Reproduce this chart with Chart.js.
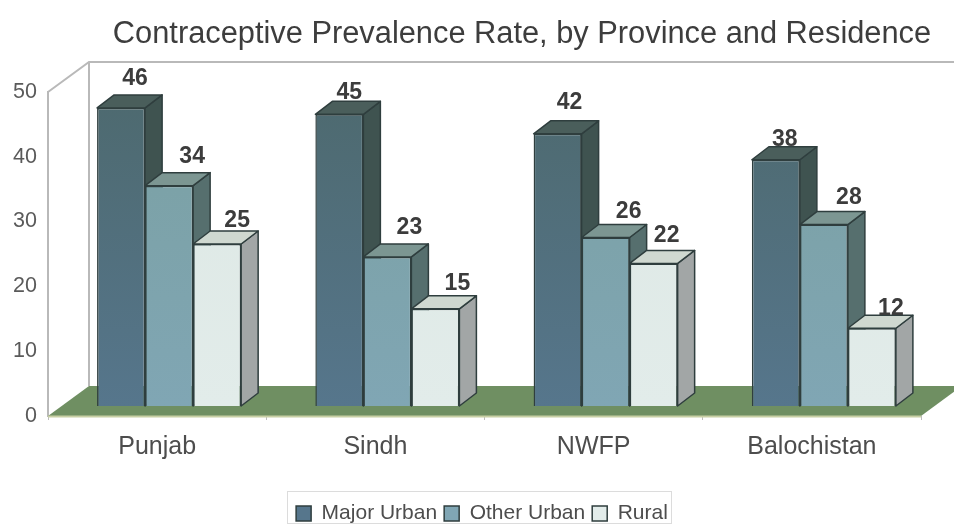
<!DOCTYPE html>
<html>
<head>
<meta charset="utf-8">
<style>
html,body{margin:0;padding:0;background:#fff;}
#wrap{width:954px;height:525px;}
</style>
<script src="https://cdn.jsdelivr.net/npm/chart.js@4"></script>
</head>
<body>
<div id="wrap"><canvas id="c" width="954" height="525"></canvas></div>
<script>
const titleText = 'Contraceptive Prevalence Rate, by Province and Residence';
const provinces = ['Punjab', 'Sindh', 'NWFP', 'Balochistan'];
const seriesNames = ['Major Urban', 'Other Urban', 'Rural'];
const majorUrban = [46, 45, 42, 38];
const otherUrban = [34, 23, 26, 28];
const rural = [25, 15, 22, 12];

// Fine placement of each value label relative to the top of its bar, series by series
const labelNudge = [
  [[14, -29], [10, -22], [12, -31], [9, -20]],
  [[23, -29], [22, -29], [23, -26], [25, -27]],
  [[20, -23], [22, -25], [13, -28], [19, -20]]
];

const frontShades = [
  ['#4d696e', '#56768c'],
  ['#7aa0a2', '#80a6b4'],
  ['#dde8e4', '#e2ecea']
];
const sideColors = ['#3f5350', '#566f6e', '#a2a6a6'];
const topColors = ['#4a5e5b', '#7c9692', '#cfd8d0'];
const edgeColor = '#2f3e3e';

const wallDepth = {x: 41, y: -30};   // floor and wall receding direction
const rowShift = {x: 12, y: -10};    // where the bar row stands on the floor
const barDepth = {x: 17, y: -13};    // thickness of each bar

function centreBox(box, centre) {
  const dx = centre - (box.left + box.right) / 2;
  box.left += dx;
  box.right += dx;
}

function frontFill(i) {
  return context => {
    const {ctx, chartArea} = context.chart;
    if (!chartArea) return frontShades[i][0];
    const g = ctx.createLinearGradient(0, chartArea.top, 0, chartArea.bottom);
    g.addColorStop(0, frontShades[i][0]);
    g.addColorStop(1, frontShades[i][1]);
    return g;
  };
}

const threeD = {
  id: 'threeD',
  afterLayout(chart) {
    centreBox(chart.titleBlock, 522);
    centreBox(chart.legend, 482);
    chart.legend.top += 9;
    chart.legend.bottom += 9;
  },
  beforeDatasetsDraw(chart) {
    const {ctx, chartArea: a} = chart;
    const d = wallDepth;
    ctx.save();
    // walls
    ctx.strokeStyle = '#b9b9b9';
    ctx.lineWidth = 2;
    ctx.beginPath();
    ctx.moveTo(a.left, a.top);
    ctx.lineTo(a.left + d.x, a.top + d.y);
    ctx.lineTo(chart.width, a.top + d.y);
    ctx.moveTo(a.left + d.x, a.top + d.y);
    ctx.lineTo(a.left + d.x, a.bottom + d.y);
    ctx.stroke();
    // floor
    ctx.fillStyle = '#6f8f62';
    ctx.beginPath();
    ctx.moveTo(a.left, a.bottom);
    ctx.lineTo(a.right, a.bottom);
    ctx.lineTo(a.right + d.x, a.bottom + d.y);
    ctx.lineTo(a.left + d.x, a.bottom + d.y);
    ctx.closePath();
    ctx.fill();
    ctx.strokeStyle = '#c8cfa4';
    ctx.lineWidth = 2;
    ctx.beginPath();
    ctx.moveTo(a.left, a.bottom + 0.5);
    ctx.lineTo(a.right, a.bottom + 0.5);
    ctx.stroke();
    ctx.restore();

    // bars stand part way back on the floor
    ctx.save();
    ctx.translate(rowShift.x, rowShift.y);

    // side and top faces go down first, left to right; the library paints the fronts over them
    const t = barDepth;
    ctx.save();
    ctx.strokeStyle = edgeColor;
    ctx.lineWidth = 1.5;
    ctx.lineJoin = 'round';
    chart.data.datasets.forEach((ds, i) => {
      chart.getDatasetMeta(i).data.forEach(bar => {
        const l = bar.x - bar.width / 2;
        const r = bar.x + bar.width / 2;
        ctx.fillStyle = sideColors[i];
        ctx.beginPath();
        ctx.moveTo(r, bar.y);
        ctx.lineTo(r + t.x, bar.y + t.y);
        ctx.lineTo(r + t.x, bar.base + t.y);
        ctx.lineTo(r, bar.base);
        ctx.closePath();
        ctx.fill();
        ctx.stroke();
        ctx.fillStyle = topColors[i];
        ctx.beginPath();
        ctx.moveTo(l, bar.y);
        ctx.lineTo(l + t.x, bar.y + t.y);
        ctx.lineTo(r + t.x, bar.y + t.y);
        ctx.lineTo(r, bar.y);
        ctx.closePath();
        ctx.fill();
        ctx.stroke();
      });
    });
    ctx.restore();
  },
  afterDatasetsDraw(chart) {
    const {ctx} = chart;
    ctx.restore();
    ctx.save();
    ctx.fillStyle = '#3c3c3c';
    ctx.font = 'bold 23px "Liberation Sans", Arial, sans-serif';
    ctx.textAlign = 'center';
    ctx.textBaseline = 'middle';
    chart.data.datasets.forEach((ds, i) => {
      chart.getDatasetMeta(i).data.forEach((bar, j) => {
        const n = labelNudge[i][j];
        ctx.fillText(String(ds.data[j]), bar.x + rowShift.x + n[0], bar.y + rowShift.y + n[1]);
      });
    });
    ctx.restore();
  },
  afterDraw(chart) {
    const {ctx} = chart;
    ctx.save();
    ctx.strokeStyle = '#dcdcdc';
    ctx.lineWidth = 1;
    ctx.strokeRect(287.5, 491.5, 384, 32);
    ctx.restore();
  }
};

const datasets = [majorUrban, otherUrban, rural].map((values, i) => ({
  label: seriesNames[i],
  data: values,
  backgroundColor: frontFill(i),
  borderColor: edgeColor,
  borderWidth: 1.5,
  categoryPercentage: 0.66,
  barPercentage: 1,
  clip: false
}));

new Chart(document.getElementById('c'), {
  type: 'bar',
  data: {labels: provinces, datasets},
  plugins: [threeD],
  options: {
    responsive: false,
    animation: false,
    layout: {padding: {left: 0, right: 33, top: 0, bottom: 0}},
    plugins: {
      title: {
        display: true,
        text: titleText,
        color: '#3d3d3d',
        font: {family: '"Liberation Sans", Arial, sans-serif', size: 30.8, weight: 'normal', lineHeight: 1.2},
        padding: {top: 16, bottom: 39}
      },
      legend: {
        position: 'bottom',
        labels: {
          color: '#4d4d4d',
          font: {family: '"Liberation Sans", Arial, sans-serif', size: 21},
          boxWidth: 15,
          boxHeight: 15,
          padding: 7
        }
      },
      tooltip: {enabled: false}
    },
    scales: {
      x: {
        grid: {display: true, drawOnChartArea: false, tickLength: 4, color: '#bdbdbd'},
        border: {display: false},
        ticks: {
          color: '#4d4d4d',
          padding: 12,
          font: {family: '"Liberation Sans", Arial, sans-serif', size: 25}
        },
        afterFit(s) { s.height = 71; }
      },
      y: {
        min: 0,
        max: 50,
        ticks: {
          stepSize: 10,
          color: '#5a5a5a',
          padding: 3,
          font: {family: '"Liberation Sans", Arial, sans-serif', size: 21.5}
        },
        grid: {display: false},
        border: {display: true, color: '#b9b9b9', width: 2},
        afterFit(s) { s.width = 48; }
      }
    }
  }
});
</script>
</body>
</html>
